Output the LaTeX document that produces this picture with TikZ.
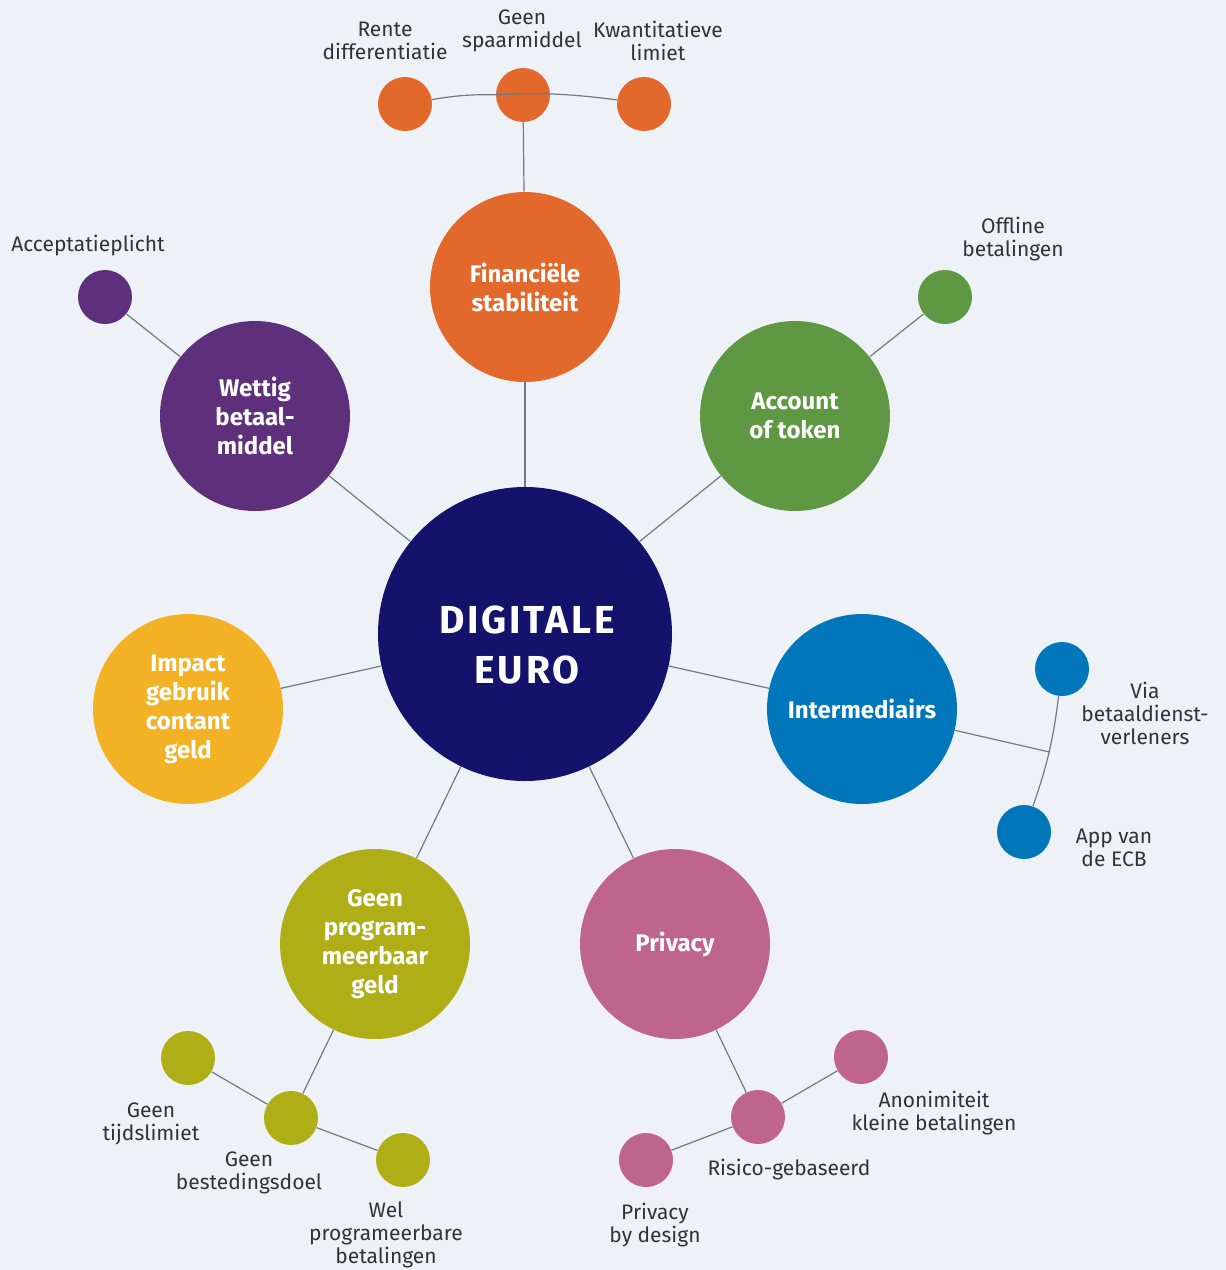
\documentclass[tikz,border=0pt]{standalone}
\usepackage{fontspec}
\setmainfont{Fira Sans}
\usetikzlibrary{positioning}

\definecolor{bgcol}{HTML}{EEF2F6}
\definecolor{linecol}{HTML}{6E7A8A}
\definecolor{txtcol}{HTML}{333333}
\definecolor{navy}{HTML}{13136B}
\definecolor{oranje}{HTML}{E2692B}
\definecolor{paars}{HTML}{5E2F7A}
\definecolor{groen}{HTML}{5E9843}
\definecolor{blauw}{HTML}{0077BB}
\definecolor{geel}{HTML}{F3B226}
\definecolor{olijf}{HTML}{B0AE17}
\definecolor{roze}{HTML}{BE648D}

\begin{document}
\begin{tikzpicture}[x=0.5pt, y=-0.5pt,
    big/.style={circle, fill=#1, minimum size=95pt, inner sep=0pt, text=white, align=center,
      font=\bfseries\fontsize{12}{14.5}\selectfont},
    dot/.style={circle, fill=#1, minimum size=27pt, inner sep=0pt},
    lbl/.style={align=center, text=txtcol, inner sep=0pt, font=\fontsize{10.5}{11.5}\selectfont},
    link/.style={draw=linecol, line width=0.6pt}]
  \useasboundingbox[fill=bgcol] (0,0) rectangle (1226,1270);

  % centre
  \node (euro) [circle, fill=navy, minimum size=147pt] at (525,634) {};
  \node (euro-txt) [text=white, align=center, inner sep=0pt,
    font=\bfseries\fontsize{19.5}{25}\selectfont\addfontfeatures{LetterSpace=7}] at (527,645) {DIGITALE\\EURO};

  % main themes
  \node (fin) [big=oranje] at (525,287) {Financiële\\stabiliteit};
  \node (wettig) [big=paars] at (255,416) {Wettig\\betaal-\\middel};
  \node (account) [big=groen] at (795,416) {Account\\of token};
  \node (inter) [big=blauw] at (862,709) {Intermediairs};
  \node (impact) [big=geel] at (188,709) {Impact\\gebruik\\contant\\geld};
  \node (prog) [big=olijf] at (375,944) {Geen\\program-\\meerbaar\\geld};
  \node (privacy) [big=roze] at (675,944) {Privacy};

  \path[link]
    (euro) edge (fin)
    (euro) edge (wettig)
    (euro) edge (account)
    (euro) edge (inter)
    (euro) edge (impact)
    (euro) edge (prog)
    (euro) edge (privacy);

  % details
  \node (rente) [dot=oranje] at (405,104) {};
  \node (spaar) [dot=oranje] at (523,95) {};
  \node (kwant) [dot=oranje] at (644,104) {};
  \node (accept) [dot=paars] at (105,297) {};
  \node (offline) [dot=groen] at (945,297) {};
  \node (via) [dot=blauw] at (1062,669) {};
  \node (app) [dot=blauw] at (1024,832) {};
  \node (tijd) [dot=olijf] at (188,1058) {};
  \node (doel) [dot=olijf] at (291,1118) {};
  \node (wel) [dot=olijf] at (403,1160) {};
  \node (anon) [dot=roze] at (861,1057) {};
  \node (risico) [dot=roze] at (758,1117) {};
  \node (design) [dot=roze] at (646,1160) {};

  \draw[link] (rente) to[bend left=5] (spaar) to[bend left=5] (kwant);
  \draw[link] (via) to[bend left=6] coordinate[pos=0.5] (junc) (app);
  \path[link]
    (spaar) edge (fin)
    (accept) edge (wettig)
    (offline) edge (account)
    (inter) edge (junc)
    (doel) edge (prog)
    (doel) edge (tijd)
    (doel) edge (wel)
    (risico) edge (privacy)
    (risico) edge (anon)
    (risico) edge (design);

  % labels
  \node (l-rente) [lbl] at (385,41) {Rente\\differentiatie};
  \node (l-spaar) [lbl] at (522,31) {Geen\\spaarmiddel};
  \node (l-kwant) [lbl] at (658,41) {Kwantitatieve\\limiet};
  \node (l-accept) [lbl] at (88,246) {Acceptatieplicht};
  \node (l-offline) [lbl] at (1013,239) {Offline\\betalingen};
  \node (l-via) [lbl] at (1145,713) {Via\\betaaldienst-\\verleners};
  \node (l-app) [lbl] at (1114,848) {App van\\de ECB};
  \node (l-tijd) [lbl] at (151,1124) {Geen\\tijdslimiet};
  \node (l-doel) [lbl] at (249,1173) {Geen\\bestedingsdoel};
  \node (l-wel) [lbl] at (386,1235) {Wel\\programeerbare\\betalingen};
  \node (l-anon) [lbl] at (934,1113) {Anonimiteit\\kleine betalingen};
  \node (l-risico) [lbl] at (789,1170) {Risico-gebaseerd};
  \node (l-design) [lbl] at (655,1225) {Privacy\\by design};
\end{tikzpicture}
\end{document}
